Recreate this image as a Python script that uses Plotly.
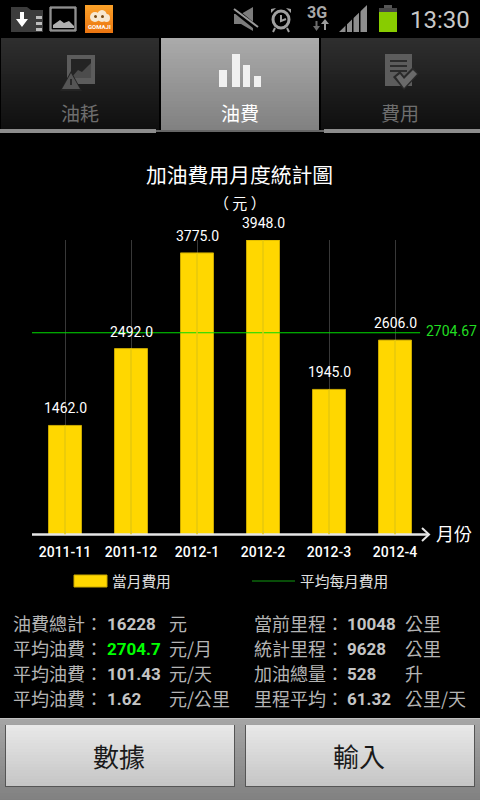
import plotly.graph_objects as go

W, H = 480, 800
FONT = "Roboto, 'Noto Sans CJK TC', sans-serif"
CJK = "'Noto Sans CJK TC', sans-serif"

# chart data
months = ['2011-11', '2011-12', '2012-1', '2012-2', '2012-3', '2012-4']
costs = [1462.0, 2492.0, 3775.0, 3948.0, 1945.0, 2606.0]
avg_cost = 2704.67

# summary table
left_names = ['油費總計：', '平均油費：', '平均油費：', '平均油費：']
left_values = ['16228', '2704.7', '101.43', '1.62']
left_units = ['元', '元/月', '元/天', '元/公里']
right_names = ['當前里程：', '統計里程：', '加油總量：', '里程平均：']
right_values = ['10048', '9628', '528', '61.32']
right_units = ['公里', '公里', '升', '公里/天']
tabs = ['油耗', '油費', '費用']
buttons = ['數據', '輸入']

positions = list(range(len(months)))


def px(x):
    return x / W


def py(y):
    return 1 - y / H


shapes = []
annotations = []


def rect(x0, y0, x1, y1, color, line=None, layer='below'):
    shapes.append(dict(type='rect', xref='paper', yref='paper', x0=px(x0), x1=px(x1), y0=py(y0), y1=py(y1),
                       fillcolor=color, line=dict(width=1 if line else 0, color=line or color), layer=layer))


def gradient(x0, y0, x1, y1, top, bottom, step=3, layer='below'):
    # plotly shapes have no gradient fill, so stack thin bands
    y = y0
    while y < y1:
        t = (y - y0) / max(y1 - y0, 1)
        c = [round(a + (b - a) * t) for a, b in zip(top, bottom)]
        rect(x0, y, x1, min(y + step, y1), f'rgb({c[0]},{c[1]},{c[2]})', layer=layer)
        y += step


def text(x, y, s, size, color, anchor='left', font=FONT, weight=None):
    # annotations carry 2px of padding, take it back out
    if anchor == 'left':
        x -= 2
    elif anchor == 'right':
        x += 2
    annotations.append(dict(xref='paper', yref='paper', x=px(x), y=py(y), text=s, showarrow=False,
                            xanchor=anchor, yanchor='middle',
                            font=dict(size=size, color=color, family=font, weight=weight)))


def path(d, color, line=None, width=1):
    shapes.append(dict(type='path', xref='paper', yref='paper', path=d, fillcolor=color,
                       line=dict(width=width if line else 0, color=line or color), layer='above'))


def seg(x0, y0, x1, y1, color, width=1, layer='above'):
    shapes.append(dict(type='line', xref='paper', yref='paper', x0=px(x0), y0=py(y0), x1=px(x1), y1=py(y1),
                       line=dict(color=color, width=width), layer=layer))


def circle(x0, y0, x1, y1, fill, line=None, width=1):
    shapes.append(dict(type='circle', xref='paper', yref='paper', x0=px(x0), y0=py(y0), x1=px(x1), y1=py(y1),
                       fillcolor=fill, line=dict(color=line or fill, width=width if line else 0), layer='above'))


def pts(coords, close=True):
    s = ' '.join(('M' if i == 0 else 'L') + f'{px(x):.4f},{py(y):.4f}' for i, (x, y) in enumerate(coords))
    return s + (' Z' if close else '')


# tab bar
gradient(1, 38, 159, 130, (46, 46, 46), (14, 14, 14))
gradient(321, 38, 480, 130, (46, 46, 46), (14, 14, 14))
gradient(161, 38, 319, 130, (170, 170, 170), (128, 128, 128))
rect(0, 129, 156, 133, '#8c8c8c')
rect(324, 129, 480, 133, '#8c8c8c')
rect(156, 130, 324, 132, '#666666')
for i, name in enumerate(tabs):
    text(80 + i * 160, 113, name, 19, '#ffffff' if i == 1 else '#6e6e6e', 'center', CJK)

# tab icons
rect(67, 55, 95, 84, '#5c5c5c', layer='above')
rect(71, 59, 91, 78, '#242424', layer='above')
path(pts([(71, 78), (78, 70), (82, 72), (91, 63), (91, 78)]), '#4c4c4c')
path(pts([(60, 91), (71, 71), (82, 91)]), '#242424')
path(pts([(62, 89), (71, 73), (80, 89)]), '#555555')
rect(70, 79, 72, 85, '#2a2a2a', layer='above')
for x0, x1, top in [(219, 227, 70), (232, 240, 54), (243, 250, 65), (254, 261, 76)]:
    rect(x0, top, x1, 87, '#f0f0f0', layer='above')
rect(385, 54, 412, 86, '#5c5c5c', layer='above')
for y in (60, 65, 70):
    rect(390, y, 407, y + 2, '#2c2c2c', layer='above')
path(pts([(393, 77), (400, 71), (404, 76), (413, 67), (419, 74), (404, 90)]), '#2a2a2a')
path(pts([(396, 77), (400, 74), (404, 79), (413, 70), (417, 74), (404, 88)]), '#6a6a6a')

# status bar icons
path(pts([(11, 32), (11, 7), (27, 7), (31, 10), (43, 10), (43, 32)]), '#3c3c3c')
path(pts([(20, 12), (24, 12), (24, 19), (28, 19), (22, 27), (16, 19), (20, 19)]), '#ffffff')
for y in (16, 22, 28):
    rect(36, y, 42, y + 3, '#bdbdbd', layer='above')
rect(50, 7, 76, 31, '#000000', line='#bfbfbf', layer='above')
rect(51, 8, 75, 30, '#000000', line='#bfbfbf', layer='above')
path(pts([(53, 28), (53, 25), (60, 20), (64, 23), (69, 21), (74, 26), (74, 28)]), '#b0b0b0')
gradient(85, 5, 113, 33, (250, 160, 40), (235, 115, 15), step=2, layer='above')
circle(90, 12, 100, 22, '#f7e8d0')
circle(97, 10, 107, 22, '#f7e8d0')
circle(103, 14, 110, 22, '#f7e8d0')
circle(94, 15, 97, 18, '#7a4a10')
circle(101, 15, 104, 18, '#7a4a10')
text(99, 27, 'GOMAJI', 6, '#ffffff', 'center', weight='bold')

# mute
path(pts([(234, 14), (241, 14), (253, 7), (253, 31), (241, 24), (234, 24)]), '#7c7c7c')
seg(232, 8, 258, 29, '#000000', 5)
seg(234, 9, 258, 27, '#9a9a9a', 2)
# alarm
circle(273, 11, 289, 28, '#000000', '#a0a0a0', 3)
path(pts([(281, 15), (281, 21), (286, 19)], close=False), 'rgba(0,0,0,0)', line='#a0a0a0', width=2)
path(pts([(271, 13), (271, 9), (276, 8)]), '#a0a0a0')
path(pts([(291, 13), (291, 9), (286, 8)]), '#a0a0a0')
seg(275, 28, 273, 32, '#a0a0a0', 2)
seg(287, 28, 289, 32, '#a0a0a0', 2)
# network
text(317, 12, '3G', 16, '#a8a8a8', 'center', 'Roboto, sans-serif', weight='bold')
rect(315.5, 21, 317.5, 27, '#6c6c6c', layer='above')
path(pts([(313, 26), (320, 26), (316.5, 31)]), '#6c6c6c')
rect(324, 24, 326, 30, '#9c9c9c', layer='above')
path(pts([(321, 24), (329, 24), (325, 19)]), '#9c9c9c')
# signal: wedge split into bars by black gaps
path(pts([(339, 32), (367, 5), (367, 32)]), '#8e8e8e')
for x in (345.5, 352, 359):
    rect(x, 5, x + 1.5, 33, '#000000', layer='above')
# battery
rect(384, 5, 392, 8, '#555555', layer='above')
rect(379, 8, 397, 12, '#484848', layer='above')
rect(379, 12, 397, 32, '#88cc00', layer='above')
text(470, 20, '13:30', 24, '#c8c8c8', 'right', 'Roboto, sans-serif')

# chart furniture
text(239.5, 174, '加油費用月度統計圖', 20.8, '#ffffff', 'center', CJK)
text(239.5, 203, '（ 元 ）', 15, '#ffffff', 'center', CJK)
text(454, 533, '月份', 18, '#ffffff', 'center', CJK)
text(426, 331, f'{avg_cost:.2f}', 14, '#22dd22', 'left')
rect(74, 575, 107, 587, '#FFD700', line='#c9a800')
seg(252, 581, 295, 581, '#119911', 1, layer='below')
text(112, 580, '當月費用', 14.7, '#e0e0e0', 'left', CJK)
text(300, 580, '平均每月費用', 14.7, '#e0e0e0', 'left', CJK)

# axis arrow
seg(32, 534.5, 428, 534.5, '#e6e6e6', 2.5)
path(pts([(422, 528), (429, 534.5), (422, 541)], close=False), 'rgba(0,0,0,0)', line='#e6e6e6', width=2)

# summary rows
row_y = [623, 648, 673, 698]
for i, y in enumerate(row_y):
    text(13, y, left_names[i], 18, '#b4b4b4', 'left', CJK)
    text(107, y + 1, left_values[i], 17, '#00ff00' if i == 1 else '#c4c4c4', 'left', weight='bold')
    text(169, y, left_units[i], 18, '#b4b4b4', 'left', CJK)
    text(254, y, right_names[i], 18, '#b4b4b4', 'left', CJK)
    text(347, y + 1, right_values[i], 17, '#c4c4c4', 'left', weight='bold')
    text(405, y, right_units[i], 18, '#b4b4b4', 'left', CJK)

# bottom panel and buttons
gradient(0, 718, 480, 800, (165, 165, 165), (128, 128, 128))
rect(0, 718, 480, 719, '#c0c0c0')
for x0, x1, name in zip((6, 246), (234, 474), buttons):
    rect(x0 - 1, 725, x1 + 1, 787, '#555555')
    gradient(x0, 725, x1, 786, (232, 232, 232), (196, 196, 196))
    text((x0 + x1) / 2 - 1, 755, name, 26, '#1a1a1a', 'center', CJK)

# bar value labels sit a fixed distance above each bar
for p, v in zip(positions, costs):
    annotations.append(dict(xref='x', yref='y', x=p, y=v, yshift=17, text=f'{v:.1f}', showarrow=False,
                            xanchor='center', yanchor='middle', font=dict(size=14, color='#ffffff', family=FONT)))

fig = go.Figure()
fig.add_bar(x=positions, y=costs, width=0.5, marker=dict(color='#FFD700', line=dict(color='#c9a800', width=1)),
            cliponaxis=False)
# faint gridline showing through each bar
for p, v in zip(positions, costs):
    shapes.append(dict(type='line', xref='x', yref='y', x0=p, x1=p, y0=0, y1=v,
                       line=dict(color='#e6c80c', width=1.5), layer='above'))
fig.add_scatter(x=[-0.5, 5.38], y=[avg_cost, avg_cost], mode='lines', line=dict(color='#00dd00', width=1), cliponaxis=False)

fig.update_layout(
    width=W, height=H, margin=dict(l=0, r=0, t=0, b=0), showlegend=False,
    paper_bgcolor='#000000', plot_bgcolor='#000000', autosize=False,
    shapes=shapes, annotations=annotations,
    font=dict(family=FONT, color='#ffffff'),
    xaxis=dict(domain=[32 / W, 428 / W], range=[-0.5, 5.5], tickmode='array', tickvals=positions, ticktext=months,
               showgrid=True, gridcolor='#383838', gridwidth=1.3,
               tickfont=dict(size=14, color='#ffffff', family=FONT, weight=500), ticks='inside', ticklen=4,
               tickcolor='#aaaaaa', showline=False, zeroline=False, tickangle=0, ticklabelstandoff=7),
    yaxis=dict(domain=[1 - 534.5 / H, 1 - 240 / H], range=[0, 3948], showgrid=False, zeroline=False,
               showticklabels=False, ticks=''),
)

fig.write_html("out.html", config={'displayModeBar': False},
               post_script="document.body.style.margin='0';document.body.style.background='#000';")
